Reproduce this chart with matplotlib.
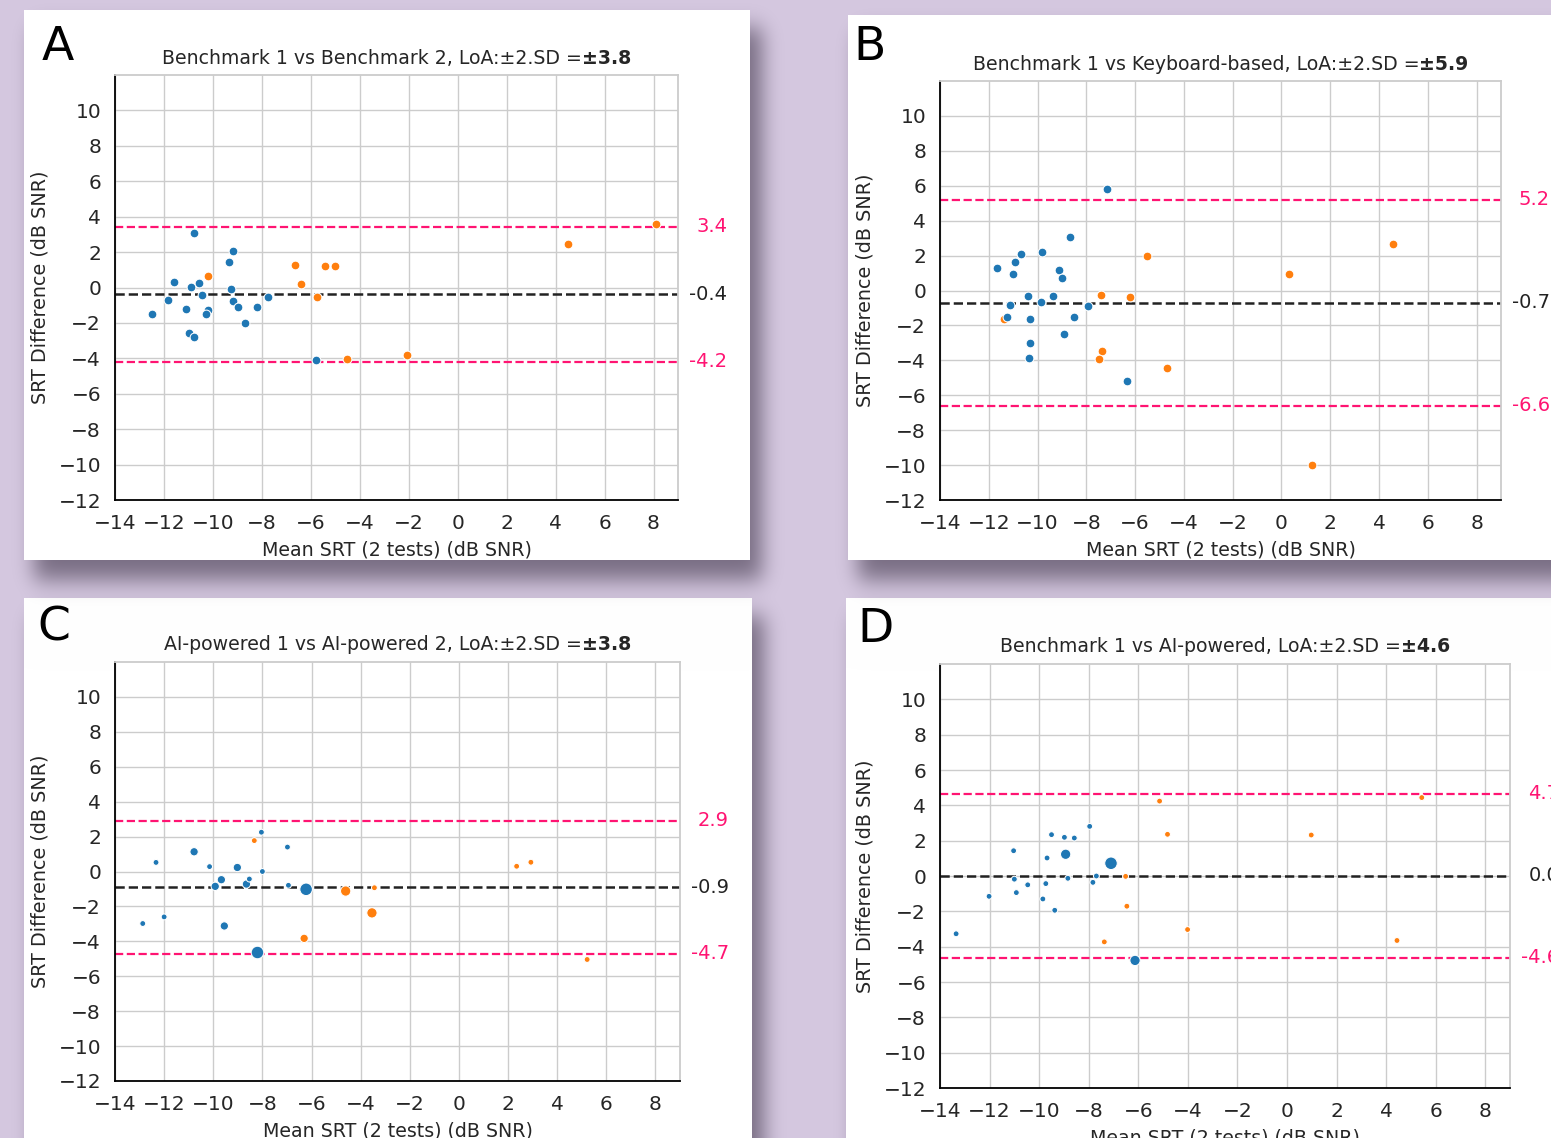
import math
import numpy as np
import matplotlib
matplotlib.use("Agg")
import matplotlib.pyplot as plt

W, H = 1551, 1138

# values
titles = ["Benchmark 1 vs Benchmark 2", "Benchmark 1 vs Keyboard-based",
          "AI-powered 1 vs AI-powered 2", "Benchmark 1 vs AI-powered"]
letters = ["A", "B", "C", "D"]
mean_diff = [-0.39, -0.70, -0.90, 0.02]
loa_half = [3.81, 5.90, 3.80, 4.64]   # 2*SD

a_blue_x = [-12.48, -11.82, -11.59, -11.08, -10.90, -10.76, -10.97, -10.76, -10.55, -10.43, -10.21,
            -10.28, -9.35, -9.16, -9.26, -9.17, -8.96, -8.70, -8.20, -7.73, -5.77]
a_blue_y = [-1.48, -0.71, 0.32, -1.24, 0.02, 3.10, -2.59, -2.78, 0.28, -0.45, -1.28,
            -1.50, 1.45, 2.05, -0.09, -0.75, -1.09, -1.99, -1.09, -0.53, -4.08]
a_orange_x = [-10.20, -6.63, -6.40, -5.42, -5.01, -5.75, -4.51, -2.09, 4.49, 8.09]
a_orange_y = [0.64, 1.26, 0.21, 1.20, 1.20, -0.51, -4.06, -3.83, 2.48, 3.61]

b_blue_x = [-7.15, -8.65, -9.82, -10.69, -10.92, -11.66, -11.00, -9.11, -9.01, -10.40, -9.36,
            -9.87, -11.11, -11.24, -10.33, -8.49, -7.94, -8.91, -10.29, -10.35, -6.33]
b_blue_y = [5.83, 3.07, 2.18, 2.11, 1.65, 1.31, 0.95, 1.16, 0.72, -0.32, -0.30,
            -0.64, -0.83, -1.54, -1.63, -1.54, -0.91, -2.49, -2.98, -3.87, -5.16]
b_orange_x = [-11.39, -7.38, -6.20, -5.52, -7.36, -7.49, -4.69, 0.32, 4.57, 1.26]
b_orange_y = [-1.65, -0.25, -0.38, 1.99, -3.49, -3.95, -4.42, 0.97, 2.64, -10.0]

c_blue_x = [-12.87, -12.33, -12.00, -10.78, -10.15, -9.02, -9.67, -9.92, -9.55, -8.65, -8.53,
            -8.04, -8.00, -8.20, -6.98, -6.94, -6.22]
c_blue_y = [-2.98, 0.52, -2.60, 1.13, 0.28, 0.23, -0.47, -0.85, -3.12, -0.72, -0.43,
            2.25, 0.00, -4.64, 1.40, -0.79, -1.02]
c_blue_n = [1, 1, 1, 2, 1, 2, 2, 2, 2, 2, 1, 1, 1, 4, 1, 1, 4]
c_orange_x = [-8.33, -4.61, -3.44, -3.54, -6.30, 2.35, 2.93, 5.22]
c_orange_y = [1.77, -1.12, -0.93, -2.37, -3.83, 0.30, 0.53, -5.04]
c_orange_n = [1, 3, 1, 3, 2, 1, 1, 1]

d_blue_x = [-13.35, -12.02, -11.03, -11.00, -10.92, -10.46, -9.85, -9.73, -9.68, -9.50, -9.37,
            -8.98, -8.93, -8.84, -8.58, -7.96, -7.83, -7.69, -7.10, -6.13]
d_blue_y = [-3.27, -1.15, 1.43, -0.18, -0.94, -0.50, -1.30, -0.43, 1.02, 2.34, -1.94,
            2.19, 1.23, -0.13, 2.15, 2.81, -0.36, 0.00, 0.72, -4.78]
d_blue_n = [1, 1, 1, 1, 1, 1, 1, 1, 1, 1, 1, 1, 3, 1, 1, 1, 1, 1, 4, 3]
d_orange_x = [-5.14, -4.82, -6.51, -6.46, -7.37, -4.01, 0.98, 4.44, 5.44]
d_orange_y = [4.24, 2.36, -0.02, -1.71, -3.73, -3.03, 2.32, -3.65, 4.44]
d_orange_n = [1, 1, 1, 1, 1, 1, 1, 1, 1]

panels = [
    (a_blue_x, a_blue_y, None, a_orange_x, a_orange_y, None),
    (b_blue_x, b_blue_y, None, b_orange_x, b_orange_y, None),
    (c_blue_x, c_blue_y, c_blue_n, c_orange_x, c_orange_y, c_orange_n),
    (d_blue_x, d_blue_y, d_blue_n, d_orange_x, d_orange_y, d_orange_n),
]

# layout in pixels (x0, y0, x1, y1), y from top
cards = [(24, 10, 750, 560), (848, 15, 1600, 560), (24, 598, 752, 1200), (846, 598, 1600, 1200)]
axes_px = [(115, 75, 678, 500), (940, 81, 1501, 500), (115, 662, 680, 1081), (940, 664, 1510, 1088)]
letter_pos = [(58, 48), (870, 48), (54, 628), (875, 630)]

BLUE, ORANGE, PINK = "#1f77b4", "#ff7f0e", "#ff1472"
size_map = {1: 18, 2: 36, 3: 55, 4: 82}

fig = plt.figure(figsize=(W / 100, H / 100), dpi=100)

# background with cards and soft shadows
erf = np.vectorize(math.erf)
def soft(lo, hi, n, sig):
    t = np.arange(n) + 0.5
    return 0.5 * (erf((t - lo) / (sig * 1.4142)) - erf((t - hi) / (sig * 1.4142)))

img = np.ones((H, W, 3)) * np.array([213, 200, 224]) / 255
shade = np.array([45, 35, 55]) / 255
for (x0, y0, x1, y1) in [cards[2], cards[3], cards[0], cards[1]]:
    m = np.outer(soft(y0 + 18, y1 + 20, H, 11), soft(x0 + 10, x1 + 12, W, 10)) * 0.55
    img = img * (1 - m[..., None]) + shade * m[..., None]
    img[y0:y1, x0:x1] = 1.0

bg = fig.add_axes([0, 0, 1, 1], zorder=-1)
bg.imshow(img, extent=(0, W, H, 0), aspect="auto", interpolation="nearest")
bg.set_xlim(0, W)
bg.set_ylim(H, 0)
bg.axis("off")

title_parts = []
for i in range(4):
    x0, y0, x1, y1 = axes_px[i]
    ax = fig.add_axes([x0 / W, 1 - y1 / H, (x1 - x0) / W, (y1 - y0) / H])
    ax.set_facecolor("white")
    bx, by, bn, ox, oy, on = panels[i]

    m = mean_diff[i]
    up, lo = m + loa_half[i], m - loa_half[i]
    ax.axhline(m, color="#222222", ls="--", lw=1.8, zorder=2)
    ax.axhline(up, color=PINK, ls="--", lw=1.6, zorder=2)
    ax.axhline(lo, color=PINK, ls="--", lw=1.6, zorder=2)

    so = 40 if on is None else [size_map[k] for k in on]
    sb = 40 if bn is None else [size_map[k] for k in bn]
    ax.scatter(ox, oy, s=so, color=ORANGE, edgecolor="white", linewidth=0.75, zorder=3)
    ax.scatter(bx, by, s=sb, color=BLUE, edgecolor="white", linewidth=0.75, zorder=3)

    ax.set_xlim(-14, 9)
    ax.set_ylim(-12, 12)
    ax.set_xticks(range(-14, 9, 2))
    ax.set_yticks(range(-12, 11, 2))
    ax.grid(True, color="#cccccc", lw=1)
    ax.set_axisbelow(True)
    ax.tick_params(length=0, labelsize=14.5, pad=10, labelcolor="#262626")
    for s in ["left", "bottom"]:
        ax.spines[s].set_color("black")
        ax.spines[s].set_linewidth(1.3)
    for s in ["top", "right"]:
        ax.spines[s].set_color("#cccccc")
        ax.spines[s].set_linewidth(1.3)

    # values at the right of the lines
    for v, c in [(up, PINK), (m, "#222222"), (lo, PINK)]:
        ax.annotate(f"{v:.1f}", xy=(1, v), xycoords=("axes fraction", "data"),
                    xytext=(49 * 0.72, 0), textcoords="offset points",
                    ha="right", va="center", fontsize=14, color=c, annotation_clip=False)

    cx = (x0 + x1) / 2
    fig.text(cx / W, 1 - (y1 + 50) / H, "Mean SRT (2 tests) (dB SNR)",
             ha="center", va="center", fontsize=13.7, color="#262626")
    fig.text((x0 - 75) / W, 1 - ((y0 + y1) / 2) / H, "SRT Difference (dB SNR)",
             ha="center", va="center", rotation=90, fontsize=13.8, color="#262626")
    lx, ly = letter_pos[i]
    fig.text(lx / W, 1 - ly / H, letters[i], ha="center", va="center", fontsize=34, color="black")

    t1 = fig.text(0, 1 - (y0 - 17) / H, f"{titles[i]}, LoA:\u00b12.SD =",
                  ha="left", va="center", fontsize=13.6, color="#262626")
    t2 = fig.text(0, 1 - (y0 - 17) / H, f"\u00b1{loa_half[i]:.1f}",
                  ha="left", va="center", fontsize=13.6, fontweight="bold", color="#262626")
    title_parts.append((cx, t1, t2))

# centre the two-part titles over their axes
fig.canvas.draw()
r = fig.canvas.get_renderer()
for cx, t1, t2 in title_parts:
    w1 = t1.get_window_extent(r).width
    w2 = t2.get_window_extent(r).width
    start = cx - (w1 + w2) / 2
    t1.set_x(start / W)
    t2.set_x((start + w1) / W)

fig.savefig("out.png", dpi=100)
